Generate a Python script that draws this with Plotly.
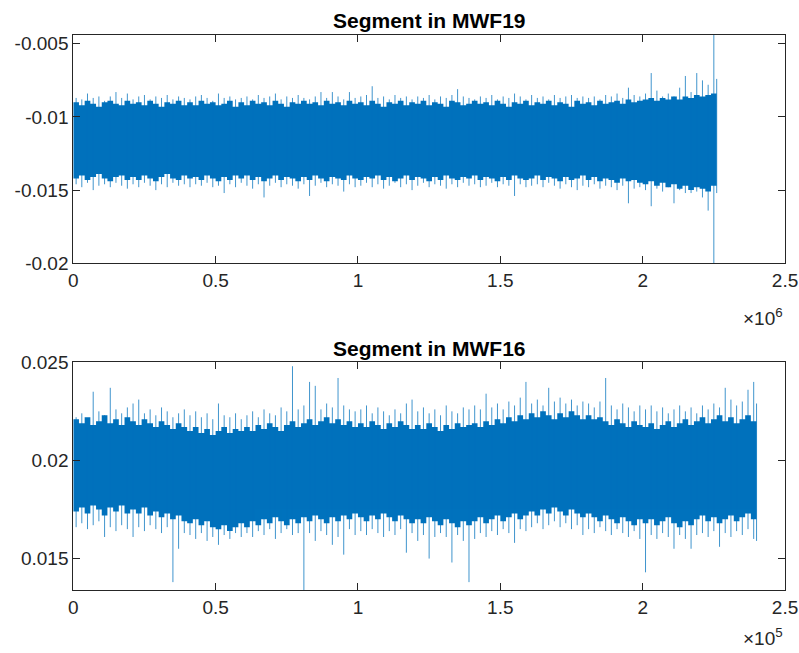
import plotly.graph_objects as go

# ---- Segment in MWF19, one bin every 20 000 samples
mwf19_bin_step = 20000
# extremes of each bin (spikes)
mwf19_hi = [
    -0.0087, -0.0088, -0.0084, -0.0087, -0.0086, -0.0089, -0.0086, -0.0083, -0.0087, -0.0084,
    -0.0088, -0.0086, -0.0085, -0.0088, -0.0086, -0.0087, -0.0085, -0.0088, -0.0086, -0.0087,
    -0.0088, -0.0086, -0.0085, -0.0087, -0.0089, -0.0084, -0.0087, -0.0086, -0.0088, -0.0087,
    -0.0086, -0.0088, -0.0085, -0.0087, -0.0086, -0.0084, -0.0088, -0.0086, -0.0087, -0.0085,
    -0.0087, -0.0088, -0.0086, -0.0083, -0.0087, -0.0083, -0.0086, -0.0088, -0.0083, -0.0087,
    -0.0086, -0.0085, -0.0079, -0.0087, -0.0086, -0.0088, -0.0085, -0.0087, -0.0086, -0.0088,
    -0.0086, -0.0087, -0.0085, -0.0088, -0.0086, -0.0087, -0.0085, -0.0081, -0.0086, -0.0087,
    -0.0088, -0.0086, -0.0087, -0.0085, -0.0088, -0.0086, -0.0087, -0.0084, -0.0086, -0.0088,
    -0.0085, -0.0087, -0.0086, -0.0088, -0.0085, -0.0087, -0.0086, -0.0085, -0.0087, -0.0086,
    -0.0087, -0.0086, -0.0088, -0.0085, -0.0086, -0.0084, -0.0087, -0.0080, -0.0085, -0.0086,
    -0.0084, -0.0070, -0.0082, -0.0086, -0.0084, -0.0086, -0.0080, -0.0072, -0.0083, -0.0070,
    -0.0075, -0.0078, -0.0044, -0.0074,
]
mwf19_lo = [
    -0.0146, -0.0148, -0.0145, -0.0150, -0.0147, -0.0146, -0.0148, -0.0145, -0.0147, -0.0149,
    -0.0146, -0.0148, -0.0145, -0.0147, -0.0150, -0.0146, -0.0148, -0.0145, -0.0147, -0.0146,
    -0.0148, -0.0146, -0.0147, -0.0145, -0.0148, -0.0147, -0.0152, -0.0146, -0.0148, -0.0145,
    -0.0147, -0.0149, -0.0146, -0.0155, -0.0147, -0.0145, -0.0148, -0.0146, -0.0147, -0.0149,
    -0.0146, -0.0154, -0.0147, -0.0145, -0.0148, -0.0146, -0.0147, -0.0151, -0.0146, -0.0148,
    -0.0147, -0.0145, -0.0148, -0.0146, -0.0149, -0.0147, -0.0145, -0.0148, -0.0146, -0.0150,
    -0.0147, -0.0145, -0.0148, -0.0146, -0.0147, -0.0149, -0.0146, -0.0148, -0.0145, -0.0147,
    -0.0146, -0.0148, -0.0147, -0.0145, -0.0148, -0.0146, -0.0147, -0.0154, -0.0146, -0.0148,
    -0.0147, -0.0146, -0.0148, -0.0145, -0.0147, -0.0149, -0.0146, -0.0148, -0.0150, -0.0147,
    -0.0148, -0.0146, -0.0149, -0.0147, -0.0148, -0.0150, -0.0147, -0.0159, -0.0149, -0.0148,
    -0.0150, -0.0161, -0.0149, -0.0151, -0.0148, -0.0159, -0.0150, -0.0152, -0.0152, -0.0151,
    -0.0155, -0.0164, -0.0200, -0.0152,
]
# limits of the dense body of each bin
mwf19_body_hi = [
    -0.0090, -0.0092, -0.0089, -0.0091, -0.0093, -0.0090, -0.0089, -0.0091, -0.0092, -0.0089,
    -0.0091, -0.0090, -0.0092, -0.0089, -0.0091, -0.0093, -0.0090, -0.0091, -0.0089, -0.0092,
    -0.0090, -0.0092, -0.0089, -0.0091, -0.0090, -0.0092, -0.0091, -0.0089, -0.0093, -0.0090,
    -0.0092, -0.0089, -0.0091, -0.0090, -0.0092, -0.0089, -0.0091, -0.0093, -0.0090, -0.0091,
    -0.0089, -0.0091, -0.0090, -0.0092, -0.0089, -0.0091, -0.0090, -0.0092, -0.0089, -0.0091,
    -0.0090, -0.0092, -0.0089, -0.0091, -0.0093, -0.0090, -0.0091, -0.0089, -0.0092, -0.0090,
    -0.0091, -0.0089, -0.0092, -0.0090, -0.0091, -0.0093, -0.0089, -0.0090, -0.0092, -0.0091,
    -0.0089, -0.0091, -0.0090, -0.0092, -0.0089, -0.0091, -0.0093, -0.0090, -0.0091, -0.0089,
    -0.0092, -0.0090, -0.0091, -0.0089, -0.0092, -0.0090, -0.0091, -0.0093, -0.0089, -0.0091,
    -0.0090, -0.0092, -0.0089, -0.0091, -0.0090, -0.0089, -0.0091, -0.0088, -0.0090, -0.0089,
    -0.0088, -0.0087, -0.0089, -0.0087, -0.0088, -0.0086, -0.0088, -0.0086, -0.0087, -0.0085,
    -0.0086, -0.0085, -0.0084, -0.0087,
]
mwf19_body_lo = [
    -0.0142, -0.0140, -0.0143, -0.0141, -0.0139, -0.0142, -0.0144, -0.0141, -0.0140, -0.0143,
    -0.0141, -0.0143, -0.0140, -0.0142, -0.0144, -0.0141, -0.0139, -0.0142, -0.0143, -0.0140,
    -0.0142, -0.0141, -0.0143, -0.0140, -0.0142, -0.0144, -0.0141, -0.0143, -0.0140, -0.0142,
    -0.0140, -0.0143, -0.0141, -0.0144, -0.0142, -0.0140, -0.0143, -0.0141, -0.0142, -0.0144,
    -0.0141, -0.0143, -0.0140, -0.0142, -0.0144, -0.0141, -0.0142, -0.0143, -0.0140, -0.0142,
    -0.0143, -0.0141, -0.0142, -0.0140, -0.0143, -0.0141, -0.0144, -0.0142, -0.0140, -0.0143,
    -0.0141, -0.0142, -0.0144, -0.0141, -0.0143, -0.0140, -0.0142, -0.0143, -0.0141, -0.0142,
    -0.0140, -0.0143, -0.0141, -0.0142, -0.0144, -0.0141, -0.0143, -0.0140, -0.0142, -0.0143,
    -0.0142, -0.0140, -0.0143, -0.0141, -0.0142, -0.0144, -0.0141, -0.0143, -0.0142, -0.0140,
    -0.0143, -0.0141, -0.0144, -0.0142, -0.0143, -0.0145, -0.0142, -0.0144, -0.0143, -0.0145,
    -0.0146, -0.0144, -0.0147, -0.0145, -0.0148, -0.0146, -0.0149, -0.0147, -0.0150, -0.0148,
    -0.0149, -0.0151, -0.0147, -0.0150,
]

# ---- Segment in MWF16, one bin every 2 000 samples
mwf16_bin_step = 2000
mwf16_hi = [
    0.0222, 0.0224, 0.0221, 0.0235, 0.0225, 0.0223, 0.0237, 0.0226, 0.0224, 0.0227,
    0.0229, 0.0231, 0.0224, 0.0226, 0.0223, 0.0227, 0.0225, 0.0222, 0.0224, 0.0226,
    0.0223, 0.0225, 0.0222, 0.0224, 0.0221, 0.0229, 0.0223, 0.0222, 0.0224, 0.0221,
    0.0223, 0.0225, 0.0222, 0.0226, 0.0224, 0.0223, 0.0227, 0.0225, 0.0248, 0.0226,
    0.0228, 0.0240, 0.0238, 0.0226, 0.0229, 0.0227, 0.0242, 0.0228, 0.0226, 0.0225,
    0.0226, 0.0228, 0.0224, 0.0227, 0.0225, 0.0223, 0.0226, 0.0224, 0.0229, 0.0231,
    0.0225, 0.0227, 0.0224, 0.0226, 0.0223, 0.0228, 0.0225, 0.0224, 0.0227, 0.0226,
    0.0228, 0.0226, 0.0234, 0.0227, 0.0229, 0.0226, 0.0230, 0.0228, 0.0232, 0.0240,
    0.0229, 0.0231, 0.0228, 0.0237, 0.0230, 0.0232, 0.0229, 0.0231, 0.0228, 0.0230,
    0.0229, 0.0227, 0.0230, 0.0242, 0.0228, 0.0226, 0.0229, 0.0227, 0.0225, 0.0228,
    0.0226, 0.0228, 0.0225, 0.0227, 0.0224, 0.0226, 0.0228, 0.0225, 0.0227, 0.0224,
    0.0228, 0.0226, 0.0229, 0.0227, 0.0237, 0.0231, 0.0228, 0.0230, 0.0236, 0.0240,
    0.0229,
]
mwf16_lo = [
    0.0166, 0.0168, 0.0165, 0.0167, 0.0169, 0.0161, 0.0166, 0.0164, 0.0167, 0.0165,
    0.0161, 0.0166, 0.0164, 0.0167, 0.0165, 0.0163, 0.0166, 0.0138, 0.0155, 0.0163,
    0.0162, 0.0160, 0.0163, 0.0159, 0.0161, 0.0157, 0.0162, 0.0160, 0.0163, 0.0161,
    0.0163, 0.0161, 0.0164, 0.0162, 0.0165, 0.0160, 0.0163, 0.0165, 0.0162, 0.0163,
    0.0134, 0.0163, 0.0159, 0.0164, 0.0162, 0.0157, 0.0161, 0.0152, 0.0165, 0.0162,
    0.0164, 0.0162, 0.0165, 0.0163, 0.0161, 0.0164, 0.0162, 0.0165, 0.0153, 0.0163,
    0.0159, 0.0162, 0.0150, 0.0161, 0.0163, 0.0161, 0.0148, 0.0162, 0.0159, 0.0138,
    0.0160, 0.0163, 0.0161, 0.0164, 0.0162, 0.0165, 0.0163, 0.0158, 0.0165, 0.0164,
    0.0166, 0.0168, 0.0165, 0.0167, 0.0169, 0.0166, 0.0168, 0.0165, 0.0167, 0.0162,
    0.0165, 0.0163, 0.0166, 0.0164, 0.0162, 0.0165, 0.0163, 0.0161, 0.0164, 0.0160,
    0.0143, 0.0162, 0.0160, 0.0163, 0.0161, 0.0155, 0.0162, 0.0160, 0.0155, 0.0162,
    0.0163, 0.0161, 0.0164, 0.0156, 0.0163, 0.0161, 0.0164, 0.0162, 0.0165, 0.0160,
    0.0159,
]
mwf16_body_hi = [
    0.0221, 0.0219, 0.0222, 0.0218, 0.0220, 0.0223, 0.0219, 0.0221, 0.0218, 0.0222,
    0.0220, 0.0218, 0.0221, 0.0219, 0.0217, 0.0220, 0.0218, 0.0216, 0.0219, 0.0217,
    0.0215, 0.0217, 0.0214, 0.0216, 0.0213, 0.0215, 0.0217, 0.0214, 0.0216, 0.0215,
    0.0217, 0.0215, 0.0218, 0.0216, 0.0219, 0.0217, 0.0215, 0.0218, 0.0220, 0.0217,
    0.0219, 0.0221, 0.0218, 0.0220, 0.0222, 0.0219, 0.0221, 0.0218, 0.0220, 0.0217,
    0.0219, 0.0217, 0.0220, 0.0218, 0.0216, 0.0219, 0.0217, 0.0220, 0.0218, 0.0216,
    0.0218, 0.0216, 0.0219, 0.0217, 0.0215, 0.0218, 0.0216, 0.0219, 0.0217, 0.0218,
    0.0219, 0.0217, 0.0220, 0.0218, 0.0221, 0.0219, 0.0222, 0.0220, 0.0223, 0.0221,
    0.0224, 0.0222, 0.0225, 0.0223, 0.0221, 0.0224, 0.0222, 0.0225, 0.0223, 0.0221,
    0.0223, 0.0221, 0.0222, 0.0220, 0.0218, 0.0221, 0.0219, 0.0217, 0.0220, 0.0218,
    0.0217, 0.0219, 0.0216, 0.0218, 0.0220, 0.0217, 0.0219, 0.0221, 0.0218, 0.0220,
    0.0222, 0.0219, 0.0221, 0.0223, 0.0220, 0.0222, 0.0219, 0.0221, 0.0223, 0.0220,
    0.0221,
]
mwf16_body_lo = [
    0.0174, 0.0176, 0.0173, 0.0177, 0.0175, 0.0172, 0.0176, 0.0174, 0.0177, 0.0173,
    0.0175, 0.0173, 0.0176, 0.0172, 0.0174, 0.0171, 0.0173, 0.0170, 0.0172, 0.0169,
    0.0168, 0.0170, 0.0167, 0.0169, 0.0166, 0.0165, 0.0167, 0.0164, 0.0166, 0.0168,
    0.0166, 0.0169, 0.0167, 0.0170, 0.0168, 0.0171, 0.0169, 0.0167, 0.0170, 0.0168,
    0.0171, 0.0169, 0.0172, 0.0170, 0.0168, 0.0171, 0.0169, 0.0172, 0.0170, 0.0173,
    0.0171, 0.0169, 0.0172, 0.0170, 0.0173, 0.0171, 0.0169, 0.0172, 0.0170, 0.0168,
    0.0170, 0.0168, 0.0171, 0.0169, 0.0167, 0.0170, 0.0168, 0.0166, 0.0169, 0.0167,
    0.0169, 0.0171, 0.0168, 0.0170, 0.0172, 0.0169, 0.0171, 0.0173, 0.0170, 0.0172,
    0.0174, 0.0172, 0.0175, 0.0173, 0.0176, 0.0174, 0.0172, 0.0175, 0.0173, 0.0171,
    0.0173, 0.0171, 0.0169, 0.0172, 0.0170, 0.0168, 0.0171, 0.0169, 0.0167, 0.0170,
    0.0168, 0.0170, 0.0167, 0.0169, 0.0171, 0.0168, 0.0166, 0.0169, 0.0167, 0.0170,
    0.0172, 0.0169, 0.0171, 0.0168, 0.0170, 0.0172, 0.0169, 0.0171, 0.0173, 0.0170,
    0.0172,
]

# ---- axis tick labels
x_tickvals = [0, 0.5, 1, 1.5, 2, 2.5]
x_ticktext = ["0", "0.5", "1", "1.5", "2", "2.5"]
top_yticks = [-0.02, -0.015, -0.01, -0.005]
top_yticktext = ["-0.02", "-0.015", "-0.01", "-0.005"]
bot_yticks = [0.015, 0.02, 0.025]
bot_yticktext = ["0.015", "0.02", "0.025"]

LINE = "#0072BD"
INK = "#262626"
FONT = "Liberation Sans, Arial, Helvetica, sans-serif"


def signal_traces(step, hi, lo, body_hi, body_lo, xa, ya):
    bins = [i * step for i in range(len(hi))]
    common = dict(xaxis=xa, yaxis=ya, hoverinfo="skip", showlegend=False)
    body_low = go.Scatter(x=bins, y=body_lo, mode="lines",
                          line=dict(width=0, color=LINE, shape="hv"), **common)
    body_top = go.Scatter(x=bins, y=body_hi, mode="lines", fill="tonexty",
                          fillcolor=LINE, line=dict(width=0, color=LINE, shape="hv"),
                          **common)
    # each bin's extreme excursion, drawn as a thin vertical stroke mid-bin
    xs, ys = [], []
    last = bins[-1]
    for b, h, l in zip(bins, hi, lo):
        xm = min(b + step / 2, last)
        xs += [xm, xm, None]
        ys += [l, h, None]
    comb = go.Scatter(x=xs, y=ys, mode="lines", line=dict(width=1, color=LINE),
                      opacity=0.75, connectgaps=False, **common)
    return [body_low, body_top, comb]


fig = go.Figure()
fig.add_traces(signal_traces(mwf19_bin_step, mwf19_hi, mwf19_lo,
                             mwf19_body_hi, mwf19_body_lo, "x", "y"))
fig.add_traces(signal_traces(mwf16_bin_step, mwf16_hi, mwf16_lo,
                             mwf16_body_hi, mwf16_body_lo, "x2", "y2"))

axis_style = dict(showline=True, linecolor=INK, linewidth=1, mirror="ticks",
                  ticks="inside", ticklen=7, tickwidth=1, tickcolor=INK,
                  showgrid=False, zeroline=False, automargin=False,
                  tickfont=dict(family=FONT, size=19, color=INK))

xdom = [0.0917, 0.9825]
fig.update_layout(
    width=799, height=653,
    margin=dict(l=0, r=0, t=0, b=0, autoexpand=False),
    paper_bgcolor="white", plot_bgcolor="white",
    showlegend=False,
    xaxis=dict(domain=xdom, anchor="y", range=[0, 2.5e6],
               tickvals=[v * 1e6 for v in x_tickvals], ticktext=x_ticktext, **axis_style),
    yaxis=dict(domain=[0.5968, 0.9464], anchor="x", range=[-0.0200, -0.0044],
               tickvals=top_yticks, ticktext=top_yticktext, **axis_style),
    xaxis2=dict(domain=xdom, anchor="y2", range=[0, 2.5e5],
                tickvals=[v * 1e5 for v in x_tickvals], ticktext=x_ticktext, **axis_style),
    yaxis2=dict(domain=[0.0965, 0.4452], anchor="x2", range=[0.0134, 0.0250],
                tickvals=bot_yticks, ticktext=bot_yticktext, **axis_style),
)

xc = (xdom[0] + xdom[1]) / 2
for title, ypos in [("Segment in MWF19", 0.969), ("Segment in MWF16", 0.467)]:
    fig.add_annotation(text=f"<b>{title}</b>", x=xc, y=ypos, xref="paper", yref="paper",
                       xanchor="center", yanchor="middle", showarrow=False,
                       font=dict(family=FONT, size=21, color="#000000"))
for expo, ypos in [("6", 0.515), ("5", 0.024)]:
    fig.add_annotation(text=f"×10<sup>{expo}</sup>", x=xdom[1], y=ypos,
                       xref="paper", yref="paper", xanchor="right", yanchor="middle",
                       showarrow=False, font=dict(family=FONT, size=19, color=INK))

fig.write_html("out.html")
